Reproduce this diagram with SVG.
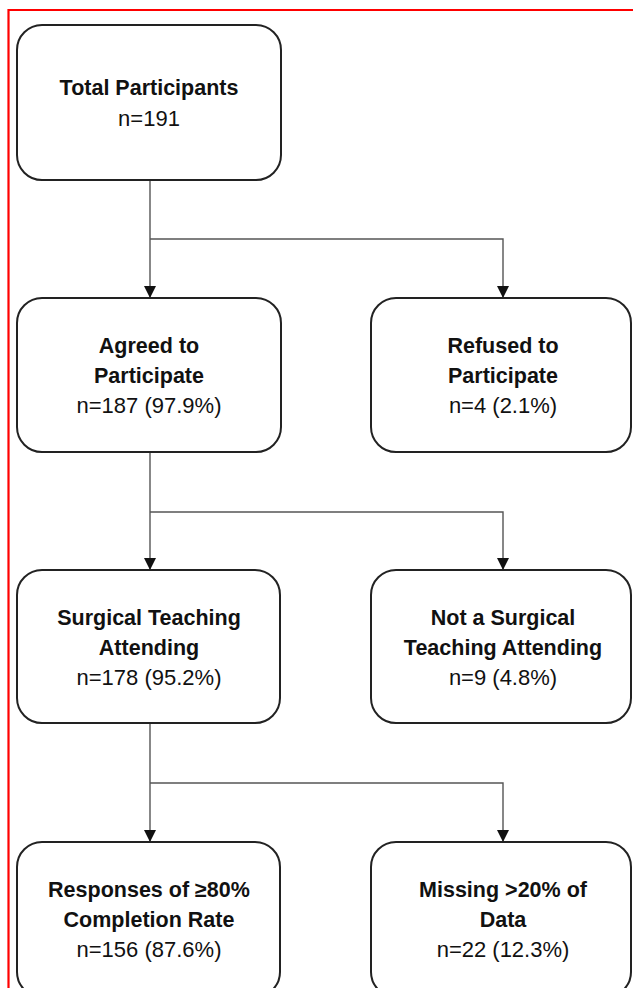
<svg xmlns="http://www.w3.org/2000/svg" width="633" height="988" viewBox="0 0 633 988">
<style>
.box{fill:#fff;stroke:#222;stroke-width:2}
.t{font-family:"Liberation Sans",Arial,sans-serif;font-size:21.5px;font-weight:bold;fill:#111;text-anchor:middle}
.n{font-family:"Liberation Sans",Arial,sans-serif;font-size:22px;fill:#111;text-anchor:middle}
.c{fill:none;stroke:#555;stroke-width:1.4}
.frame{stroke:#f00;stroke-width:2.2;fill:none}
</style>
<defs>
<marker id="arr" markerWidth="12" markerHeight="12" viewBox="0 0 12 12" refX="12" refY="6" orient="auto" markerUnits="userSpaceOnUse">
<path d="M0,0 L12,6 L0,12 Z" fill="#111"/>
</marker>
</defs>
<rect width="633" height="988" fill="#fff"/>
<path class="frame" d="M8.5,988 V10 H633"/>
<g id="connectors">
<path class="c" d="M150,180 V298" marker-end="url(#arr)"/>
<path class="c" d="M150,239 H503 V298" marker-end="url(#arr)"/>
<path class="c" d="M150,452 V570" marker-end="url(#arr)"/>
<path class="c" d="M150,512 H503 V570" marker-end="url(#arr)"/>
<path class="c" d="M150,723 V842" marker-end="url(#arr)"/>
<path class="c" d="M150,783 H503 V842" marker-end="url(#arr)"/>
</g>
<g id="total">
<rect class="box" x="17" y="25" width="264" height="155" rx="25"/>
<text class="t" x="149" y="95">Total Participants</text>
<text class="n" x="149" y="126">n=191</text>
</g>
<g id="agreed">
<rect class="box" x="17" y="298" width="264" height="154" rx="25"/>
<text class="t" x="149" y="353">Agreed to</text>
<text class="t" x="149" y="383">Participate</text>
<text class="n" x="149" y="413">n=187 (97.9%)</text>
</g>
<g id="refused">
<rect class="box" x="371" y="298" width="260" height="154" rx="25"/>
<text class="t" x="503" y="353">Refused to</text>
<text class="t" x="503" y="383">Participate</text>
<text class="n" x="503" y="413">n=4 (2.1%)</text>
</g>
<g id="surgical">
<rect class="box" x="17" y="570" width="263" height="153" rx="25"/>
<text class="t" x="149" y="625">Surgical Teaching</text>
<text class="t" x="149" y="655">Attending</text>
<text class="n" x="149" y="685">n=178 (95.2%)</text>
</g>
<g id="not-surgical">
<rect class="box" x="371" y="570" width="260" height="153" rx="25"/>
<text class="t" x="503" y="625">Not a Surgical</text>
<text class="t" x="503" y="655">Teaching Attending</text>
<text class="n" x="503" y="685">n=9 (4.8%)</text>
</g>
<g id="responses">
<rect class="box" x="17" y="842" width="263" height="155" rx="25"/>
<text class="t" x="149" y="897">Responses of ≥80%</text>
<text class="t" x="149" y="927">Completion Rate</text>
<text class="n" x="149" y="957">n=156 (87.6%)</text>
</g>
<g id="missing">
<rect class="box" x="371" y="842" width="260" height="155" rx="25"/>
<text class="t" x="503" y="897">Missing &gt;20% of</text>
<text class="t" x="503" y="927">Data</text>
<text class="n" x="503" y="957">n=22 (12.3%)</text>
</g>
</svg>
